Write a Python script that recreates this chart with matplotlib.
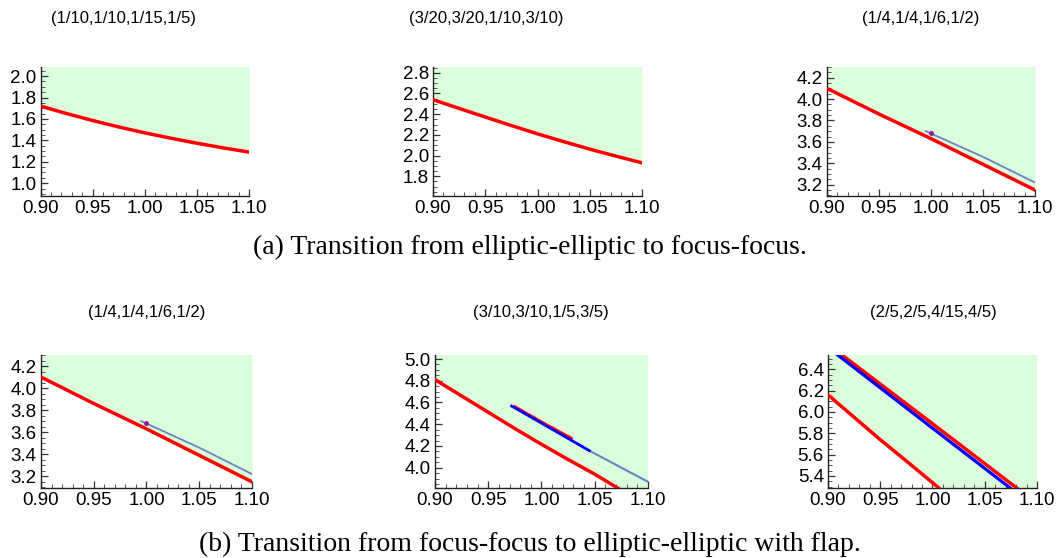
import numpy as np
import matplotlib.pyplot as plt
from matplotlib.ticker import MultipleLocator

# ---- data ----
titles_a = ["(1/10,1/10,1/15,1/5)", "(3/20,3/20,1/10,3/10)", "(1/4,1/4,1/6,1/2)"]
titles_b = ["(1/4,1/4,1/6,1/2)", "(3/10,3/10,1/5,3/5)", "(2/5,2/5,4/15,4/5)"]
caption_a = "(a) Transition from elliptic-elliptic to focus-focus."
caption_b = "(b) Transition from focus-focus to elliptic-elliptic with flap."

x9 = [0.90, 0.925, 0.95, 0.975, 1.00, 1.025, 1.05, 1.075, 1.10]

# panel (1/10,...)
red1 = [1.72, 1.65, 1.585, 1.525, 1.47, 1.42, 1.373, 1.33, 1.29]
# panel (3/20,...)
red2 = [2.54, 2.455, 2.372, 2.29, 2.21, 2.135, 2.062, 1.995, 1.93]
# panel (1/4,...)  (used twice)
red3 = [4.10, 3.98, 3.86, 3.745, 3.63, 3.51, 3.39, 3.27, 3.15]
steel3_x = [0.995, 1.05, 1.10]
steel3_y = [3.70, 3.46, 3.22]
dot3 = (1.00, 3.685)

# panel (3/10,...)
red5_x = [0.90, 0.925, 0.95, 0.975, 1.00, 1.025, 1.05, 1.072]
red5_y = [4.81, 4.66, 4.51, 4.36, 4.215, 4.075, 3.94, 3.81]
blue5_x = [0.972, 1.00, 1.045]
blue5_y = [4.567, 4.41, 4.156]
redseg5_x = [0.975, 1.00, 1.028]
redseg5_y = [4.56, 4.42, 4.27]
steel5_x = [1.045, 1.10]
steel5_y = [4.156, 3.87]

# panel (2/5,...)
red6a_x = [0.90, 0.925, 0.95, 0.975, 1.006]
red6a_y = [6.16, 5.95, 5.74, 5.54, 5.288]
red6b_x = [0.9134, 1.00, 1.0804]
red6b_y = [6.534, 5.89, 5.288]
blue6_x = [0.9093, 1.00, 1.0742]
blue6_y = [6.534, 5.848, 5.288]

ylims = [(0.88, 2.085), (1.61, 2.855), (3.094, 4.30),
         (3.094, 4.30), (3.813, 5.037), (5.287, 6.534)]

RED = "#ff0000"
BLUE = "#0000ff"
STEEL = "#6585c4"
GREEN = "#dcfddc"

plt.rcParams['font.family'] = ['Liberation Sans', 'DejaVu Sans']

fig = plt.figure(figsize=(10.57, 5.58), dpi=100)
W, H = 1057, 558

# axes boxes in pixels: left, right, top, bottom
boxes = [(40.5, 249, 67, 196), (433, 642, 67, 196), (827, 1035, 67, 196),
         (41, 252, 355, 488), (435, 648, 355, 488), (828, 1037, 355, 488)]
axes = []
for (l, r, t, b) in boxes:
    ax = fig.add_axes([l / W, 1 - b / H, (r - l) / W, (b - t) / H])
    axes.append(ax)


def style(ax, ylim):
    ax.set_xlim(0.90, 1.10)
    ax.set_ylim(*ylim)
    for s in ["top", "right"]:
        ax.spines[s].set_visible(False)
    for s in ["left", "bottom"]:
        ax.spines[s].set_color("#222222")
        ax.spines[s].set_linewidth(1.0)
    ax.xaxis.set_major_locator(MultipleLocator(0.05))
    ax.xaxis.set_minor_locator(MultipleLocator(0.01))
    ax.yaxis.set_major_locator(MultipleLocator(0.2))
    ax.yaxis.set_minor_locator(MultipleLocator(0.05))
    ax.xaxis.set_major_formatter(plt.FormatStrFormatter("%.2f"))
    ax.yaxis.set_major_formatter(plt.FormatStrFormatter("%.1f"))
    ax.tick_params(which="major", direction="in", length=5, width=0.9,
                   labelsize=13.5, pad=3, color="#333333")
    ax.tick_params(which="minor", direction="in", length=3, width=0.7,
                   color="#555555")


def fill_above(ax, x, y, ylim):
    ax.fill_between(x, y, ylim[1] + 1, color=GREEN, lw=0, zorder=0)


# row (a)
for ax, red, yl in zip(axes[:2], [red1, red2], ylims[:2]):
    style(ax, yl)
    fill_above(ax, x9, red, yl)
    ax.plot(x9, red, color=RED, lw=2.5, zorder=3)

for ax, yl in [(axes[2], ylims[2]), (axes[3], ylims[3])]:
    style(ax, yl)
    fill_above(ax, x9, red3, yl)
    ax.plot(x9, red3, color=RED, lw=2.5, zorder=3)
    ax.plot(steel3_x, steel3_y, color=STEEL, lw=1.3, zorder=3)
    ax.plot(*dot3, marker="o", ms=2.5, color="#8a1a9a", zorder=4)

# (3/10,...)
ax = axes[4]
style(ax, ylims[4])
ax.fill_between([0.90, 1.10], [ylims[4][0]] * 2, ylims[4][1] + 1, color=GREEN, lw=0, zorder=0)
ax.fill_between(red5_x, ylims[4][0], red5_y, color="white", lw=0, zorder=1)
ax.plot(red5_x, red5_y, color=RED, lw=2.5, zorder=3)
ax.plot(steel5_x, steel5_y, color=STEEL, lw=1.5, zorder=3)
ax.plot(redseg5_x, redseg5_y, color=RED, lw=2.2, zorder=3)
ax.plot(blue5_x, blue5_y, color=BLUE, lw=2.0, zorder=4)

# (2/5,...)
ax = axes[5]
style(ax, ylims[5])
ax.fill_between([0.90, 1.10], [ylims[5][0]] * 2, ylims[5][1] + 1, color=GREEN, lw=0, zorder=0)
ax.fill_between(red6a_x, ylims[5][0], red6a_y, color="white", lw=0, zorder=1)
ax.plot(red6a_x, red6a_y, color=RED, lw=2.5, zorder=3)
ax.plot(red6b_x, red6b_y, color=RED, lw=2.5, zorder=3)
ax.plot(blue6_x, blue6_y, color=BLUE, lw=2.3, zorder=3)

# titles
for t, xc in zip(titles_a, [124, 486, 921]):
    fig.text(xc / W, 1 - 18 / H, t, ha="center", va="center", fontsize=12)
for t, xc in zip(titles_b, [147, 541, 933]):
    fig.text(xc / W, 1 - 312 / H, t, ha="center", va="center", fontsize=12)

fig.text(530 / W, 1 - 247 / H, caption_a, ha="center", va="center",
         fontsize=20, family=["Liberation Serif", "DejaVu Serif"])
fig.text(530 / W, 1 - 544 / H, caption_b, ha="center", va="center",
         fontsize=20, family=["Liberation Serif", "DejaVu Serif"])

fig.savefig("out.png", dpi=100)
